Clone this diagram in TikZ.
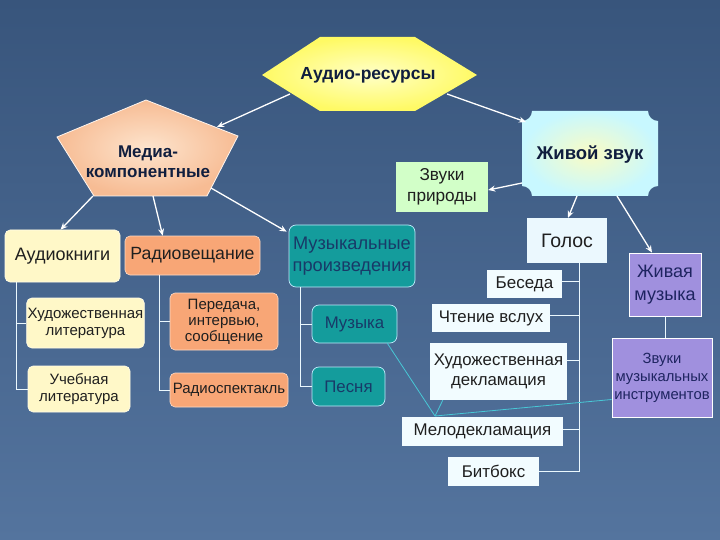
\documentclass[tikz,border=0pt]{standalone}
\usepackage{fontspec}
\setmainfont{Liberation Sans}
\usetikzlibrary{arrows.meta}
\definecolor{bgtop}{RGB}{56,85,124}
\definecolor{bgbot}{RGB}{84,116,158}
\definecolor{navy}{RGB}{16,30,62}
\definecolor{hexy}{RGB}{255,250,100}
\definecolor{hexyc}{RGB}{255,255,200}
\definecolor{peach}{RGB}{247,188,148}
\definecolor{peachc}{RGB}{253,228,205}
\definecolor{cyanl}{RGB}{200,248,255}
\definecolor{cyanc}{RGB}{250,252,196}
\definecolor{beige}{RGB}{255,248,200}
\definecolor{salmon}{RGB}{248,166,118}
\definecolor{tealf}{RGB}{20,156,156}
\definecolor{tealtext}{RGB}{24,58,104}
\definecolor{greenl}{RGB}{210,255,200}
\definecolor{whitebox}{RGB}{242,252,255}
\definecolor{lav}{RGB}{160,144,222}
\definecolor{lavtext}{RGB}{30,36,96}
\definecolor{cyanline}{RGB}{72,200,214}
\newcommand\fsz[2]{\fontsize{#1}{#2}\selectfont}
\tikzset{
  conn/.style={draw=white, line width=1.3pt, -{Stealth[length=7pt,width=6pt]}},
  treeline/.style={draw=white!92!cyan, line width=0.8pt},
  cyanln/.style={draw=cyanline, line width=0.8pt},
  bx/.style={inner sep=1pt, align=center, text=black!88},
  beigebox/.style={bx, fill=beige, draw=white!60!beige, line width=0.6pt, rounded corners=5pt},
  salmonbox/.style={bx, fill=salmon, draw=white!60!salmon, line width=0.6pt, rounded corners=5pt},
  tealbox/.style={bx, fill=tealf, draw=cyan!25!white, line width=0.7pt, rounded corners=7pt, text=tealtext},
  whitebx/.style={bx, fill=whitebox},
  lavbox/.style={bx, fill=lav, draw=white, line width=0.9pt, text=lavtext},
  title/.style={align=center, text=navy, font=\bfseries\fsz{17.5}{20}},
}
\begin{document}
\begin{tikzpicture}[x=1pt,y=-1pt]
\useasboundingbox (0,0) rectangle (720,540);
\shade[top color=bgtop, bottom color=bgbot] (0,0) rectangle (720,540);

% custom shapes
\shade[inner color=hexyc, outer color=hexy] (262,75) -- (320,37) -- (415,37) -- (477,75) -- (415,111) -- (320,111) -- cycle;
\shadedraw[inner color=peachc, outer color=peach, draw=white!85!peach, line width=0.8pt] (146,100) -- (238,136) -- (207,196) -- (94,196) -- (57,137) -- cycle;
\shade[inner color=cyanc, outer color=cyanl] (532,111) -- (648,111) .. controls (648,116.5) and (652.5,121) .. (658,121) -- (658,186) .. controls (652.5,186) and (648,190.5) .. (648,196) -- (532,196) .. controls (532,190.5) and (527.5,186) .. (522,186) -- (522,121) .. controls (527.5,121) and (532,116.5) .. (532,111) -- cycle;

\node[title] (ar) at (368,75) {Аудио-ресурсы};
\node[title, font=\bfseries\fsz{17}{20}] (media) at (148,162) {Медиа-\\компонентные};
\node[title, font=\bfseries\fsz{18.5}{20}] (zz) at (590,155) {Живой звук};

% anchor points on custom shapes
\coordinate (ar-l) at (290,94);
\coordinate (ar-r) at (447,94);
\coordinate (media-in) at (217,127);
\coordinate (media-a) at (93,196);
\coordinate (media-b) at (153,196);
\coordinate (media-c) at (211,188);
\coordinate (zz-in) at (526,122);
\coordinate (zz-l) at (522,183);
\coordinate (zz-b) at (577,196);
\coordinate (zz-c) at (617,196);

% left group
\node[beigebox, minimum width=115pt, minimum height=52pt, font=\fsz{18}{19}] (audiobooks) at (62.5,256) {Аудиокниги};
\node[beigebox, minimum width=115pt, minimum height=50pt, font=\fsz{15}{17}] (hudlit) at (85.5,323) {Художественная\\литература};
\node[beigebox, minimum width=102pt, minimum height=46pt, font=\fsz{15}{17}] (ucheb) at (79,389) {Учебная\\литература};
\node[salmonbox, minimum width=135pt, minimum height=39pt, font=\fsz{17.7}{19}] (radio) at (192.5,255.5) {Радиовещание};
\node[salmonbox, minimum width=108pt, minimum height=57pt, font=\fsz{15}{16}] (peredacha) at (224,321.5) {Передача,\\интервью,\\сообщение};
\node[salmonbox, minimum width=118pt, minimum height=34pt, font=\fsz{15}{17}] (radiosp) at (229,390) {Радиоспектакль};

% music group
\node[tealbox, minimum width=126pt, minimum height=62pt, font=\fsz{18.2}{22}] (muzproizv) at (352,256) {Музыкальные\\произведения};
\node[tealbox, minimum width=85pt, minimum height=38pt, font=\fsz{16.8}{19}] (muzyka) at (354.5,324) {Музыка};
\node[tealbox, minimum width=73pt, minimum height=39pt, font=\fsz{16.8}{19}] (pesnya) at (348.5,386.5) {Песня};

% live sound group
\node[bx, fill=greenl, minimum width=92pt, minimum height=50pt, font=\fsz{17.2}{21}] (zvprir) at (442,187) {Звуки\\природы};
\node[whitebx, fill=white!92!cyan, minimum width=80pt, minimum height=45pt, font=\fsz{19.5}{20}] (golos) at (567,240.5) {Голос};
\node[whitebx, minimum width=75pt, minimum height=28pt, font=\fsz{17}{19}] (beseda) at (524.5,284) {Беседа};
\node[whitebx, minimum width=118pt, minimum height=28pt, font=\fsz{16.8}{19}] (chtenie) at (491,318) {Чтение вслух};
\node[whitebx, minimum width=137pt, minimum height=57pt, font=\fsz{16.8}{20}] (hudekl) at (498.5,371.5) {Художественная\\декламация};
\node[whitebx, minimum width=161pt, minimum height=29pt, font=\fsz{16.9}{19}] (melodekl) at (482.5,431.5) {Мелодекламация};
\node[whitebx, minimum width=91pt, minimum height=29pt, font=\fsz{16.9}{19}] (bitboks) at (493.5,471.5) {Битбокс};
\node[lavbox, minimum width=72pt, minimum height=63pt, font=\fsz{18}{23}] (zhivmuz) at (665,284.5) {Живая\\музыка};
\node[lavbox, minimum width=100pt, minimum height=79pt, font=\fsz{14.8}{18}] (zvmuz) at (662,377.5) {Звуки\\музыкальных\\инструментов};

% arrows
\draw[conn] (ar-l) -- (media-in);
\draw[conn] (ar-r) -- (zz-in);
\draw[conn] (zz-l) -- ([yshift=-3pt]zvprir.east);
\draw[conn] (zz-b) -- ([xshift=1pt]golos.north);
\draw[conn] (zz-c) -- ([xshift=-13pt]zhivmuz.north);
\draw[conn] (media-a) -- ([xshift=-2pt]audiobooks.north);
\draw[conn] (media-b) -- ([xshift=38pt]radio.north west);
\draw[conn] (media-c) -- ([shift={(-2pt,-7pt)}]muzproizv.north west);

% tree lines
\draw[treeline] ([xshift=12pt]audiobooks.south west) |- (hudlit.west);
\draw[treeline] ([xshift=12pt]audiobooks.south west) |- (ucheb.west);
\draw[treeline] ([xshift=35pt]radio.south west) |- (peredacha.west);
\draw[treeline] ([xshift=35pt]radio.south west) |- (radiosp.west);
\draw[treeline] ([xshift=12pt]muzproizv.south west) |- (muzyka.west);
\draw[treeline] ([xshift=12pt]muzproizv.south west) |- (pesnya.west);
\draw[treeline] ([xshift=12pt]golos.south) |- ([yshift=3pt]beseda.east);
\draw[treeline] ([xshift=12pt]golos.south) |- ([yshift=3pt]chtenie.east);
\draw[treeline] ([xshift=12pt]golos.south) |- ([yshift=11pt]hudekl.east);
\draw[treeline] ([xshift=12pt]golos.south) |- ([yshift=2pt]melodekl.east);
\draw[treeline] ([xshift=12pt]golos.south) |- (bitboks.east);
\draw[treeline] (zhivmuz.south) -- (zhivmuz.south |- zvmuz.north);

% cyan links
\coordinate (mc) at (435,416);
\draw[cyanln] ([xshift=-10pt]muzyka.south east) -- (mc);
\draw[cyanln] ([xshift=13pt]hudekl.south west) -- (mc);
\draw[cyanln] ([yshift=-22pt]zvmuz.west) -- (mc);
\end{tikzpicture}
\end{document}
